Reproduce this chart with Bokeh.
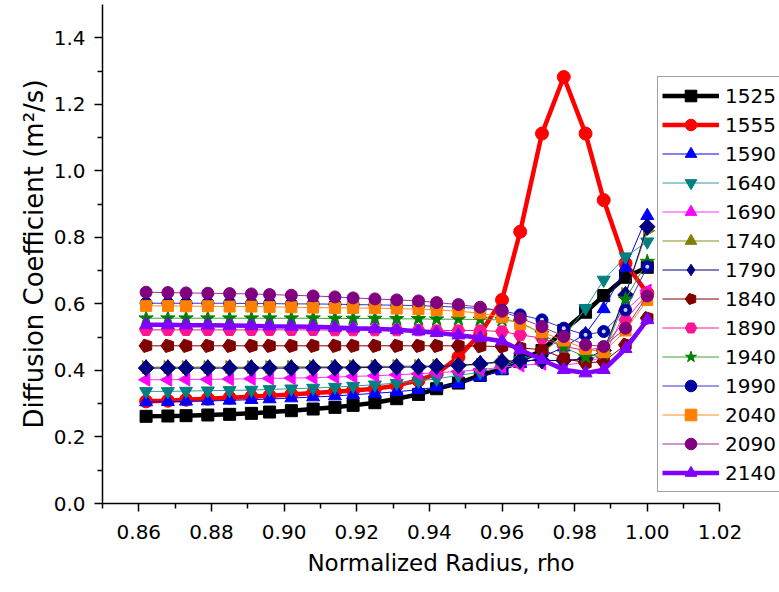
from bokeh.plotting import figure
from bokeh.models import Range1d, FixedTicker, PrintfTickFormatter, Title
from bokeh.embed import file_html
from bokeh.resources import INLINE
import math

rho = [0.862, 0.868, 0.873, 0.879, 0.885, 0.891, 0.896, 0.902, 0.908, 0.914, 0.919, 0.925,
       0.931, 0.937, 0.942, 0.948, 0.954, 0.960, 0.965, 0.971, 0.977, 0.983, 0.988, 0.994, 1.000]

d1525 = [0.262, 0.263, 0.264, 0.266, 0.268, 0.271, 0.275, 0.279, 0.284, 0.289, 0.295, 0.303,
         0.315, 0.328, 0.345, 0.362, 0.385, 0.405, 0.430, 0.460, 0.520, 0.575, 0.625, 0.680, 0.710]
d1555 = [0.307, 0.309, 0.312, 0.315, 0.318, 0.321, 0.324, 0.328, 0.332, 0.336, 0.340, 0.345,
         0.355, 0.370, 0.390, 0.440, 0.510, 0.612, 0.817, 1.112, 1.282, 1.112, 0.912, 0.722, 0.632]
d1590 = [0.305, 0.306, 0.307, 0.308, 0.310, 0.312, 0.314, 0.317, 0.320, 0.323, 0.327, 0.331,
         0.336, 0.342, 0.350, 0.360, 0.380, 0.400, 0.420, 0.440, 0.470, 0.510, 0.585, 0.710, 0.865]
d1640 = [0.337, 0.337, 0.338, 0.339, 0.340, 0.341, 0.343, 0.345, 0.347, 0.350, 0.353, 0.357,
         0.362, 0.368, 0.375, 0.385, 0.395, 0.410, 0.430, 0.455, 0.500, 0.587, 0.672, 0.742, 0.787]
d1690 = [0.372, 0.372, 0.373, 0.373, 0.374, 0.375, 0.376, 0.377, 0.378, 0.380, 0.382, 0.384,
         0.387, 0.390, 0.393, 0.397, 0.402, 0.410, 0.415, 0.420, 0.415, 0.425, 0.440, 0.580, 0.640]
d1740 = [0.410, 0.410, 0.410, 0.410, 0.410, 0.410, 0.410, 0.411, 0.411, 0.411, 0.412, 0.412,
         0.413, 0.413, 0.414, 0.415, 0.417, 0.425, 0.430, 0.430, 0.430, 0.430, 0.450, 0.630, 0.820]
d1790 = [0.407, 0.407, 0.407, 0.407, 0.407, 0.407, 0.407, 0.407, 0.408, 0.408, 0.408, 0.409,
         0.410, 0.410, 0.412, 0.415, 0.420, 0.427, 0.430, 0.430, 0.430, 0.435, 0.460, 0.627, 0.832]
d1840 = [0.474, 0.474, 0.474, 0.474, 0.474, 0.474, 0.474, 0.474, 0.474, 0.474, 0.474, 0.474,
         0.474, 0.474, 0.474, 0.474, 0.473, 0.472, 0.468, 0.462, 0.437, 0.422, 0.427, 0.477, 0.557]
d1890 = [0.522, 0.522, 0.522, 0.522, 0.522, 0.522, 0.522, 0.522, 0.522, 0.521, 0.521, 0.521,
         0.521, 0.521, 0.520, 0.520, 0.520, 0.517, 0.507, 0.497, 0.472, 0.460, 0.470, 0.552, 0.630]
d1940 = [0.557, 0.557, 0.557, 0.557, 0.557, 0.557, 0.557, 0.557, 0.557, 0.556, 0.556, 0.556,
         0.555, 0.555, 0.554, 0.554, 0.553, 0.552, 0.545, 0.510, 0.470, 0.440, 0.450, 0.614, 0.727]
d1990 = [0.602, 0.602, 0.602, 0.602, 0.602, 0.601, 0.601, 0.600, 0.600, 0.599, 0.598, 0.597,
         0.596, 0.595, 0.593, 0.590, 0.586, 0.580, 0.567, 0.552, 0.527, 0.507, 0.517, 0.582, 0.712]
d2040 = [0.594, 0.594, 0.593, 0.593, 0.592, 0.592, 0.591, 0.590, 0.589, 0.588, 0.588, 0.587,
         0.586, 0.584, 0.582, 0.578, 0.572, 0.560, 0.540, 0.515, 0.490, 0.465, 0.455, 0.520, 0.612]
d2090 = [0.635, 0.634, 0.633, 0.632, 0.631, 0.630, 0.628, 0.626, 0.624, 0.621, 0.618, 0.615,
         0.612, 0.609, 0.604, 0.598, 0.590, 0.578, 0.557, 0.532, 0.502, 0.477, 0.472, 0.527, 0.624]
d2140 = [0.537, 0.537, 0.536, 0.536, 0.535, 0.534, 0.533, 0.532, 0.531, 0.529, 0.527, 0.525,
         0.522, 0.518, 0.513, 0.506, 0.498, 0.488, 0.462, 0.432, 0.402, 0.392, 0.402, 0.465, 0.552]

labels = ["1525", "1555", "1590", "1640", "1690", "1740", "1790",
          "1840", "1890", "1940", "1990", "2040", "2090", "2140"]
series = [d1525, d1555, d1590, d1640, d1690, d1740, d1790,
          d1840, d1890, d1940, d1990, d2040, d2090, d2140]

x_ticks = [0.86, 0.88, 0.90, 0.92, 0.94, 0.96, 0.98, 1.00, 1.02]
x_minor = [0.85, 0.87, 0.89, 0.91, 0.93, 0.95, 0.97, 0.99, 1.01]
y_ticks = [0.0, 0.2, 0.4, 0.6, 0.8, 1.0, 1.2, 1.4]
y_minor = [0.1, 0.3, 0.5, 0.7, 0.9, 1.1, 1.3]

# style: (line color, marker fill, marker, angle, line width, size)
styles = [
    ("#000000", "#000000", "square", 0, 4.5, 12),
    ("#ff0000", "#ff0000", "circle", 0, 4.5, 13),
    ("#0000ff", "#0000ff", "triangle", 0, 1, 13),
    ("#339c9c", "#008080", "inverted_triangle", 0, 1, 13),
    ("#ff33ff", "#ff00ff", "triangle", math.pi / 2, 1, 13),
    ("#8c8c1a", "#808000", "triangle", -math.pi / 2, 1, 13),
    ("#000080", "#000080", "diamond", 0, 1, 17),
    ("#800000", "#800000", "pentagon", 0, 1, 13),
    ("#ff1493", "#ff1493", "hex", 0, 1, 13),
    ("#3aa03a", "#008000", "star", 0, 1, 15),
    ("#3333cc", "#0000a0", "circle", 0, 1, 12),
    ("#ff8c1a", "#ff8000", "square", 0, 1, 11),
    ("#993399", "#800080", "circle", 0, 1, 12),
    ("#8000ff", "#8000ff", "triangle", 0, 4.5, 13),
]

# frame spans to the right window edge so that the legend is not clipped;
# x = 1.02 stays at the same pixel as in the reference
p = figure(width=779, height=592, output_backend="svg", toolbar_location=None,
           x_range=Range1d(0.85, 1.0364), y_range=Range1d(0.0, 1.5),
           min_border_left=102, min_border_right=0, min_border_top=4, min_border_bottom=89)
p.outline_line_color = None
p.xgrid.visible = False
p.ygrid.visible = False

FONT = "DejaVu Sans"

for lab, ys, (lc, fc, mk, ang, lw, sz) in zip(labels, series, styles):
    p.line(rho, ys, line_color=lc, line_width=lw, legend_label=lab)
    if mk == "pentagon":
        try:
            p.ngon(rho, ys, radius=7, radius_units="screen", n=5, angle=math.pi / 2,
                   fill_color=fc, line_color=fc, legend_label=lab)
        except Exception:
            p.scatter(rho, ys, marker="hex", size=sz, fill_color=fc, line_color=fc,
                      legend_label=lab)
    else:
        p.scatter(rho, ys, marker=mk, angle=ang, size=sz, fill_color=fc, line_color=fc,
                  legend_label=lab)
    if mk == "diamond":
        # square-shaped diamond (45-degree square) drawn over the legend diamond
        p.scatter(rho, ys, marker="square", angle=math.pi / 4, size=11,
                  fill_color=fc, line_color=fc)
    if lab == "1990":
        p.scatter(rho, ys, marker="circle", size=4, fill_color="#d0d0ff", line_color=None)

xa = p.xaxis[0]
ya = p.yaxis[0]
xa.bounds = (0.85, 1.02)
xa.ticker = FixedTicker(ticks=x_ticks, minor_ticks=x_minor)
ya.ticker = FixedTicker(ticks=y_ticks, minor_ticks=y_minor)
xa.formatter = PrintfTickFormatter(format="%.2f")
ya.formatter = PrintfTickFormatter(format="%.1f")
ya.axis_label = "Diffusion Coefficient (m²/s)"
for ax in (xa, ya):
    ax.axis_line_width = 1.5
    ax.axis_line_color = "black"
    ax.major_tick_line_width = 1.5
    ax.minor_tick_line_width = 1.5
    ax.major_tick_in = 0
    ax.major_tick_out = 8
    ax.minor_tick_in = 0
    ax.minor_tick_out = 5
    ax.major_label_text_font = FONT
    ax.major_label_text_font_size = "20px"
    ax.major_label_text_color = "black"
    ax.axis_label_text_font = FONT
    ax.axis_label_text_font_style = "normal"
    ax.axis_label_text_color = "black"
ya.axis_label_text_font_size = "26px"
xa.major_label_standoff = 13
ya.major_label_standoff = 9
ya.axis_label_standoff = 2

# x-axis title centred under the 0.85-1.02 axis span (not under the widened frame)
xt = Title(text="Normalized Radius, rho", align="center", offset=-30, standoff=13,
           text_font=FONT, text_font_size="23px", text_font_style="normal",
           text_color="black")
p.add_layout(xt, "below")

lg = p.legend[0]
lg.location = (555, 11)
lg.padding = 4
lg.margin = 0
lg.spacing = 0
lg.glyph_width = 57
lg.glyph_height = 29
lg.label_height = 29
lg.label_width = 60
lg.label_standoff = 6
lg.label_text_font = FONT
lg.label_text_font_size = "20px"
lg.label_text_color = "black"
lg.border_line_color = "#444444"
lg.border_line_width = 1.2
lg.background_fill_color = "white"
lg.background_fill_alpha = 1.0

open("out.html", "w").write(file_html(p, INLINE))
